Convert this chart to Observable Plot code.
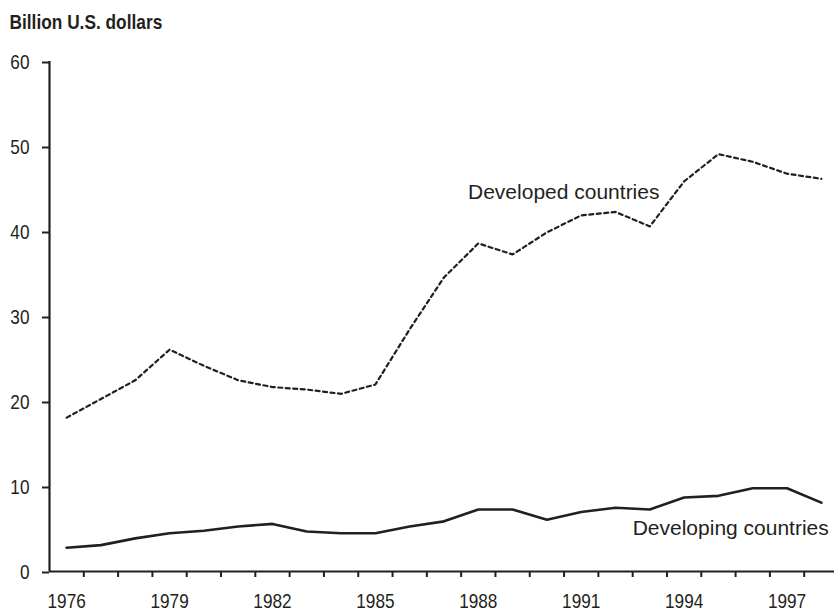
<!DOCTYPE html>
<html>
<head>
<meta charset="utf-8">
<script src="https://cdn.jsdelivr.net/npm/d3@7"></script>
<script src="https://cdn.jsdelivr.net/npm/@observablehq/plot@0.6"></script>
<style>
  html, body { margin: 0; padding: 0; background: #fff; }
  #chart svg { display: block; }
</style>
</head>
<body>
<div id="chart"></div>
<script>
const years = [1976, 1977, 1978, 1979, 1980, 1981, 1982, 1983, 1984, 1985, 1986, 1987,
               1988, 1989, 1990, 1991, 1992, 1993, 1994, 1995, 1996, 1997, 1998];
const developed = [18.1, 20.3, 22.5, 26.1, 24.2, 22.5, 21.7, 21.4, 20.9, 22.0, 28.5, 34.6,
                   38.6, 37.3, 39.9, 41.9, 42.3, 40.6, 45.9, 49.1, 48.2, 46.8, 46.2];
const developing = [2.8, 3.1, 3.9, 4.5, 4.8, 5.3, 5.6, 4.7, 4.5, 4.5, 5.3, 5.9,
                    7.3, 7.3, 6.1, 7.0, 7.5, 7.3, 8.7, 8.9, 9.8, 9.8, 8.1];
const xTickLabels = [1976, 1979, 1982, 1985, 1988, 1991, 1994, 1997];
const yTicks = [0, 10, 20, 30, 40, 50, 60];
const seriesLabels = ["Developed countries", "Developing countries"];
const labelYears = [1987.7, 1992.5];
const labelValues = [43.85, 4.24];
const titleText = "Billion U.S. dollars";

const ink = "#231f20";
const sans = "'Liberation Sans', Arial, Helvetica, sans-serif";

const devData = years.map((y, i) => ({year: y, value: developed[i]}));
const dvgData = years.map((y, i) => ({year: y, value: developing[i]}));
const bandEdges = years.map(y => y - 0.5).concat([years[years.length - 1] + 0.5]);
const labels = seriesLabels.map((t, i) => ({text: t, year: labelYears[i], value: labelValues[i]}));

const chart = Plot.plot({
  width: 834,
  height: 612,
  marginLeft: 49,
  marginRight: 0,
  marginTop: 61,
  marginBottom: 41,
  style: {color: ink, background: "#fff", fontFamily: sans},
  x: {type: "linear", domain: [bandEdges[0], bandEdges[bandEdges.length - 1]], range: [49, 838], label: null},
  y: {domain: [0, 60], range: [571, 61], label: null},
  marks: [
    Plot.axisY({ticks: yTicks, tickSize: 7, tickPadding: 13, fontSize: 21, fontFamily: sans,
                strokeWidth: 2, dy: 1, label: null, className: "cond", tickFormat: d => String(d)}),
    Plot.axisX({ticks: bandEdges.slice(1), tickSize: 6, strokeWidth: 2, label: null, tickFormat: () => ""}),
    Plot.axisX({ticks: xTickLabels, tickSize: 0, tickPadding: 22, fontSize: 21, fontFamily: sans,
                label: null, className: "cond", tickFormat: d => String(d)}),
    Plot.ruleY([0], {stroke: ink, strokeWidth: 2.2}),
    Plot.ruleX([bandEdges[0]], {stroke: ink, strokeWidth: 2.2}),
    Plot.line(devData, {x: "year", y: "value", stroke: ink, strokeWidth: 2.2, strokeDasharray: "4,3.5"}),
    Plot.line(dvgData, {x: "year", y: "value", stroke: ink, strokeWidth: 2.6}),
    Plot.text(labels, {x: "year", y: "value", text: "text", textAnchor: "start", lineAnchor: "bottom",
                       fontSize: 21, fontFamily: sans, fill: ink}),
    Plot.text([titleText], {frameAnchor: "top-left", dx: -40, dy: -32.7, textAnchor: "start",
                            lineAnchor: "bottom", fontSize: 20, fontWeight: "bold",
                            fontFamily: sans, fill: ink, className: "condtitle"})
  ]
});

function condense(selector, s) {
  d3.select(chart).selectAll(selector).each(function() {
    const el = d3.select(this);
    let t = el.attr("transform");
    if (!t) {
      const x = +el.attr("x") || 0, y = +el.attr("y") || 0;
      el.attr("x", null).attr("y", null);
      t = `translate(${x},${y})`;
    }
    el.attr("transform", t + ` scale(${s},1)`);
  });
}
condense(".cond text", 0.82);
condense(".condtitle text", 0.865);

document.getElementById("chart").appendChild(chart);
</script>
</body>
</html>
